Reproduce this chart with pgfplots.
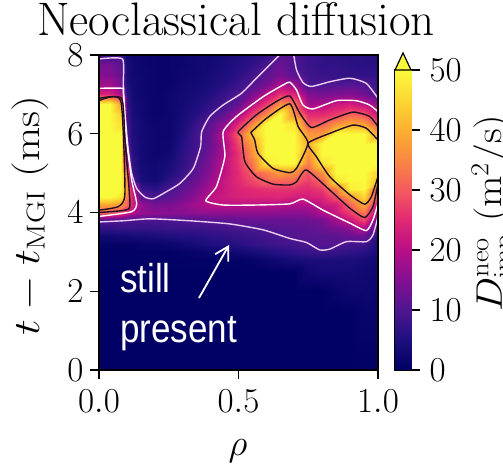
\RequirePackage{fix-cm}
\documentclass[border=0pt]{standalone}
\usepackage[no-math]{fontspec}
\usepackage{pgfplots}
\pgfplotsset{compat=1.18}
\usetikzlibrary{arrows.meta}
\newfontfamily\arialfont{Liberation Sans}
\newcommand\bigf{\fontsize{35}{40}\selectfont}
\pgfplotsset{colormap={neo}{
 rgb255=(0,0,100) rgb255=(30,15,125) rgb255=(78,22,145) rgb255=(130,15,145) rgb255=(185,15,135)
 rgb255=(225,40,115) rgb255=(245,90,95) rgb255=(250,135,65) rgb255=(252,175,50) rgb255=(252,215,50) rgb255=(250,250,60)}}
\gdef\coords{}
\newcommand\Xv[1]{\ifcase#1 0\or 0.04\or 0.08\or 0.1\or 0.12\or 0.15\or 0.2\or 0.25\or 0.3\or 0.35\or 0.4\or 0.45\or 0.5\or 0.55\or 0.6\or 0.65\or 0.7\or 0.75\or 0.8\or 0.85\or 0.9\or 0.95\or 1\fi}
\newcommand\Row[2]{\foreach \v [count=\i from 0] in {#2}{\xdef\coords{\coords (\Xv{\i},#1) [\v]}}}
\Row{8}{8,8,8,3,2.5,2,1.5,1.5,2,3,3,4,5,6,7,11,10,8,7,6.5,6,6,6}
\Row{7.75}{14,14,11,4,3,2,1.5,1.5,2,3,3.5,4.5,5.5,7,9.5,13,10,8,7,7,6.5,6,6}
\Row{7.5}{15,15,12,4,3,2.5,1.5,1.5,2.5,3,4,5,6.5,9,11.5,14,11,8.5,8,7.5,7,7,7}
\Row{7.25}{18,18,14,5,3.5,2.5,1.5,1.5,3,3.5,4.5,6,8,10.5,14,19.5,18,9.5,10,10.5,11,10.5,8}
\Row{7}{24,24,18,6,3.5,2.5,1.5,2,3.5,4,5.5,8,10,14,20,26,24,15,14,14.5,15,13,9.5}
\Row{6.75}{50,50,38,7,4,3,1.5,2,3.5,5,7,9,12,19.5,27,36,33,18,19,22,23,21,16}
\Row{6.5}{50,50,44,8,4.5,3,1.5,2,4,6,9,12,18,27,35,50,36,25,25,27,30.5,29,21}
\Row{6.25}{50,50,46,9,5,3.5,2,2,4.5,8,12,17,25,35,50,50,47,30,31,36,39.5,38,29}
\Row{6}{50,50,50,9,5,3.5,2,2,5,9,13,21,30,43,50,50,50,37,37,50,50,50,38}
\Row{5.75}{50,50,50,11,5.5,3.5,2,2.5,6,9,13,19,28,38,50,50,50,40,50,50,50,50,50}
\Row{5.5}{50,50,50,14,6,3.5,2,3,6.5,9.5,14,19.5,26,36,50,50,50,37,50,50,50,50,50}
\Row{5.25}{50,50,50,20,7,3.5,3,4,7,10.5,15,21,26,33,48,50,50,34,47,50,50,50,50}
\Row{5}{50,50,50,32,8,4,3,5,8,12,16,21,25,30,33,37,36,29,36,50,50,50,44}
\Row{4.8}{50,50,50,35,10,4.5,3.5,7,10,13,17.5,22,25,28,31,31,31,27,31,47,50,50,41}
\Row{4.6}{50,50,50,37,22,8,6.5,9.5,12,15,19,22,24,25,26,26,26,25,27,34,48,50,27}
\Row{4.4}{50,50,47,33,24,12,9.5,11,13.5,16.5,20.5,22.5,23.5,24,24,24.5,23,23,24,29,37,45,27}
\Row{4.2}{38,38,36,31,24,17,14,14.5,16,18,20,20,20,20,20,19.5,19,19,21.5,23,31,39.5,20}
\Row{4}{30,29,27,22,19.5,17,16,15.5,15.5,16,16,16,16,16,16,15.5,15.5,16,19,22,27,33,18}
\Row{3.8}{10.5,10.2,10,10,9.8,9.7,9.6,9.7,10,10.5,11,11.5,12,12.5,12.5,12.5,12.5,13,14,18,22,28,11}
\Row{3.6}{7,7,7.5,7.5,7.5,7.5,7.5,8,8,8,8.5,9,9.5,9.8,10.5,11,11,11.5,12.5,14,16,20,9}
\Row{3.4}{3,3,3.5,3.5,4,4,4.5,5,5.5,6,6.5,7,7.5,8,9,9.5,10.5,11,11,11.5,12.5,13,6}
\Row{3.2}{1,1,1,1,1,1.5,1.5,2,3,4,5,5.5,6,7,8,8.5,9,10,10.7,10.3,9,8.5,5}
\Row{3}{0.5,0.5,0.5,0.5,0.5,0.5,0.5,0.5,1,1.5,2,2.5,3,4,5,6,7,7.5,8,7.5,7,6,4}
\Row{2.8}{0.3,0.3,0.3,0.3,0.3,0.3,0.3,0.3,0.3,0.3,0.3,0.5,0.5,1,2,3,4,4.5,4.5,4.5,4.5,4,3}
\Row{2.5}{0.2,0.2,0.2,0.2,0.2,0.2,0.2,0.2,0.2,0.2,0.2,0.2,0.2,0.2,0.2,0.2,0.2,3,3.5,3.5,3.5,3,2.5}
\Row{2}{0.2,0.2,0.2,0.2,0.2,0.2,0.2,0.2,0.2,0.2,0.2,0.2,0.2,0.2,0.2,0.2,0.2,0.2,0.2,1.5,2.5,2.5,2}
\Row{1.5}{0.2,0.2,0.2,0.2,0.2,0.2,0.2,0.2,0.2,0.2,0.2,0.2,0.2,0.2,0.2,0.2,0.2,0.2,0.2,0.2,0.2,1.5,1.5}
\Row{0}{0.2,0.2,0.2,0.2,0.2,0.2,0.2,0.2,0.2,0.2,0.2,0.2,0.2,0.2,0.2,0.2,0.2,0.2,0.2,0.2,0.2,0.2,0.2}
\newcommand\plotgrid[1]{\addplot[surf,shader=interp,mesh/cols=23,mesh/rows=28,point meta=explicit] coordinates {#1};}
\definecolor{cten}{RGB}{235,205,240}
\definecolor{cdark}{RGB}{35,15,35}
\begin{document}
\begin{tikzpicture}
\path[use as bounding box] (0,0) rectangle (503pt,468pt);
\clip (0,0) rectangle (503pt,468pt);
\begin{axis}[
  at={(99pt,98pt)},anchor=south west,scale only axis,width=279pt,height=315pt,
  xmin=0,xmax=1,ymin=0,ymax=8,
  colormap name=neo,point meta min=0,point meta max=50,
  axis line style={line width=1.2pt,black},
  axis on top,
  tick style={line width=1.2pt,black},tick align=outside,major tick length=9pt,
  xtick pos=lower,ytick pos=left,
  xtick={0,0.5,1},ytick={0,2,4,6,8},
  tick label style={font=\bigf},
  x tick label style={yshift=-7pt,/pgf/number format/.cd,fixed,fixed zerofill,precision=1},
  y tick label style={xshift=-3pt},
  title={Neoclassical diffusion},
  title style={font=\fontsize{47}{50}\selectfont,at={(axis description cs:0.491,1.042)},anchor=base},
  xlabel={$\rho$},
  xlabel style={font=\fontsize{37}{40}\selectfont,at={(axis description cs:0.498,-0.27)},anchor=base},
  ylabel={\scalebox{1.2}[1]{$t-t_{\mathrm{MGI}}$ (ms)}},
  ylabel style={font=\fontsize{37}{42}\selectfont,at={(axis description cs:-0.215,0.49)},anchor=base},
]
\expandafter\plotgrid\expandafter{\coords}
% level 10
\addplot[cten,line width=1.4pt,smooth,tension=0.35] coordinates {(0,7.9)(0.084,7.9)(0.087,7.25)(0.093,6.52)(0.105,5.59)(0.117,5.0)(0.135,4.61)(0.165,4.39)(0.195,4.35)(0.242,4.53)(0.29,4.74)(0.338,5.12)(0.364,5.67)(0.368,6.05)(0.397,6.44)(0.445,6.73)(0.511,7.03)(0.564,7.41)(0.642,7.96)(0.648,8)};
\addplot[cten,line width=1.4pt,smooth,tension=0.35] coordinates {(0.698,8)(0.708,7.62)(0.731,7.3)(0.761,7.2)(0.827,7.32)(0.899,7.41)(0.958,7.28)(1,6.9)};
\addplot[cten,line width=1.4pt,smooth,tension=0.35] coordinates {(0,3.76)(0.087,3.79)(0.183,3.84)(0.326,3.79)(0.469,3.71)(0.588,3.56)(0.684,3.34)(0.743,3.24)(0.791,3.05)(0.827,3.07)(0.887,3.26)(0.958,3.26)(0.982,3.43)(1,3.9)};
% level 20
\addplot[white,line width=1.4pt,smooth,tension=0.35] coordinates {(0,7.155)(0.084,7.155)(0.087,7.06)(0.099,5.84)(0.117,4.83)(0.135,4.23)(0.117,4.02)(0,3.9)};
\addplot[white,line width=1.4pt,smooth,tension=0.35] coordinates {(1,6.56)(0.97,6.73)(0.922,6.84)(0.851,6.84)(0.767,6.63)(0.731,6.73)(0.708,7.11)(0.684,7.31)(0.66,7.24)(0.588,6.94)(0.493,6.44)(0.445,6.05)(0.451,5.42)(0.421,4.66)(0.383,4.3)(0.445,4.19)(0.564,4.19)(0.684,4.22)(0.731,4.34)(0.803,4.06)(0.899,3.73)(0.958,3.54)(0.982,3.81)(1,4.23)};
% level 30
\addplot[cdark,line width=1.4pt,smooth,tension=0.35] coordinates {(0,6.9)(0.081,6.9)(0.093,5.84)(0.111,4.23)(0.093,4.06)(0,4.0)};
\addplot[cdark,line width=1.4pt,smooth,tension=0.35] coordinates {(1,6.18)(0.97,6.44)(0.91,6.55)(0.827,6.35)(0.761,6.16)(0.72,6.52)(0.684,6.96)(0.636,6.82)(0.564,6.48)(0.499,6.05)(0.511,5.93)(0.523,5.29)(0.564,4.91)(0.624,4.72)(0.684,4.7)(0.708,4.78)(0.743,5.08)(0.827,4.57)(0.899,4.11)(0.952,3.87)(0.982,4.15)(1,4.74)};
% level 40
\addplot[cdark,line width=1.4pt,smooth,tension=0.35] coordinates {(0,6.84)(0.078,6.84)(0.093,4.49)(0.069,4.15)(0,4.06)};
\addplot[cdark,line width=1.4pt,smooth,tension=0.35] coordinates {(0.544,6.03)(0.6,6.39)(0.684,6.76)(0.714,6.18)(0.749,5.76)(0.708,5.12)(0.684,5.01)(0.624,5.12)(0.57,5.5)(0.558,5.84)(0.544,6.03)};
\addplot[cdark,line width=1.4pt,smooth,tension=0.35] coordinates {(1,5.84)(0.958,6.14)(0.91,6.22)(0.827,6.01)(0.749,5.76)(0.779,5.42)(0.827,4.91)(0.899,4.45)(0.952,4.21)(0.976,4.4)(1,4.91)};
\end{axis}
\begin{axis}[
  at={(395pt,98pt)},anchor=south west,scale only axis,width=16pt,height=300pt,
  xmin=0,xmax=1,ymin=0,ymax=50,clip=false,
  colormap name=neo,point meta min=0,point meta max=50,
  axis line style={line width=1.2pt,black},
  tick style={line width=1.2pt,black},tick align=outside,major tick length=9pt,
  xtick=\empty,ytick={0,10,20,30,40,50},ytick pos=right,yticklabel pos=right,
  tick label style={font=\bigf},
  y tick label style={xshift=6pt},
  ylabel={\scalebox{1.1}[1]{$D^{\mathrm{neo}}_{\mathrm{imp}}$ (m$^2$/s)}},
  ylabel style={font=\fontsize{37}{42}\selectfont,at={(axis description cs:6.68,0.523)},anchor=base,rotate=0},
]
\addplot[surf,shader=interp,mesh/cols=2,point meta=explicit] coordinates {(0,0) [0] (1,0) [0] (0,50) [50] (1,50) [50]};
\addplot[draw=black,line width=1.2pt,fill={rgb,255:red,250;green,250;blue,60}] coordinates {(0,50)(0.5,52.85)(1,50)} -- cycle;
\end{axis}
\node[anchor=base west,inner sep=0pt,white,font=\arialfont\fontsize{35}{40}\selectfont] at (120pt,175pt) {\scalebox{1}[1.15]{still}};
\node[anchor=base west,inner sep=0pt,white,font=\arialfont\fontsize{35}{40}\selectfont] at (120pt,125pt) {\scalebox{1}[1.15]{present}};
\draw[white,line width=1.8pt,-{Straight Barb[length=13pt,width=15pt]}] (199pt,170pt) -- (229pt,223pt);
\end{tikzpicture}
\end{document}
